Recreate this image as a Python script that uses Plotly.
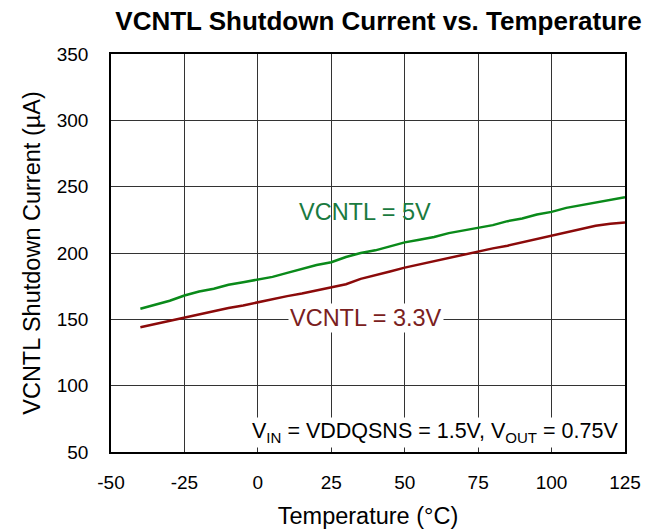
import plotly.graph_objects as go

temps = [-40, -35, -30, -25, -20, -15, -10, -5, 0, 5, 10, 15, 20, 25, 30, 35, 40, 45, 50,
         55, 60, 65, 70, 75, 80, 85, 90, 95, 100, 105, 110, 115, 120, 125]
i_5v = [158, 161, 164, 168, 171, 173, 176, 178, 180, 182, 185, 188, 191, 193, 197, 200, 202,
        205, 208, 210, 212, 215, 217, 219, 221, 224, 226, 229, 231, 234, 236, 238, 240, 242]
i_33v = [144, 146.5, 149, 151.5, 154, 156, 158.5, 160.5, 163, 165, 167.5, 169.5, 172, 174,
         176.5, 180.5, 183, 186, 189, 191.5, 194, 196.5, 199, 201, 203.5, 205.5, 208, 210.5,
         212.5, 215, 217.5, 220.5, 222, 223]
x_ticks = [-50, -25, 0, 25, 50, 75, 100, 125]
y_ticks = [50, 100, 150, 200, 250, 300, 350]

FONT = "Liberation Sans, Arial, sans-serif"
fig = go.Figure()
fig.add_trace(go.Scatter(x=temps, y=i_5v, mode="lines", line=dict(color="#0a8a1a", width=2.5),
                         showlegend=False))
fig.add_trace(go.Scatter(x=temps, y=i_33v, mode="lines", line=dict(color="#8b0a0a", width=2.5),
                         showlegend=False))

fig.add_annotation(x=36.5, y=231, text="VCNTL = 5V", showarrow=False,
                   font=dict(family=FONT, size=23.5, color="#1a7a40"))
fig.add_annotation(x=36.8, y=151, text="VCNTL = 3.3V", showarrow=False, bgcolor="white",
                   borderpad=1,
                   font=dict(family=FONT, size=23.5, color="#7a2020"))
fig.add_annotation(x=123.3, y=65, xanchor="right", yanchor="middle",
                   text="V<sub>IN</sub> = VDDQSNS = 1.5V, V<sub>OUT</sub> = 0.75V", showarrow=False,
                   bgcolor="white", borderpad=1, font=dict(family=FONT, size=21.5, color="black"))

fig.update_layout(
    width=661, height=529,
    margin=dict(l=103, r=44, t=46, b=85),
    paper_bgcolor="white", plot_bgcolor="white",
    font=dict(family=FONT, color="black"),
    title=dict(text="<b>VCNTL Shutdown Current vs. Temperature</b>", x=0.5605, xanchor="center",
               y=0.975, yanchor="middle", font=dict(family=FONT, size=26, color="black")),
    xaxis=dict(range=[-50, 125], tickvals=x_ticks, ticktext=[str(v) for v in x_ticks],
               showgrid=True, gridcolor="#333333", gridwidth=1, zeroline=False,
               showline=True, linecolor="black", linewidth=1.5, mirror=True,
               ticks="", tickfont=dict(size=19), ticklabelstandoff=12,
               title=dict(text="Temperature (°C)", font=dict(size=23.5), standoff=16)),
    yaxis=dict(range=[50, 350], tickvals=y_ticks, ticktext=[str(v) for v in y_ticks],
               showgrid=True, gridcolor="#333333", gridwidth=1, zeroline=False,
               showline=True, linecolor="black", linewidth=1.5, mirror=True,
               ticks="", tickfont=dict(size=19), ticklabelstandoff=17,
               title=dict(text="VCNTL Shutdown Current (µA)", font=dict(size=23.5), standoff=10)),
)
fig.write_html("out.html")
